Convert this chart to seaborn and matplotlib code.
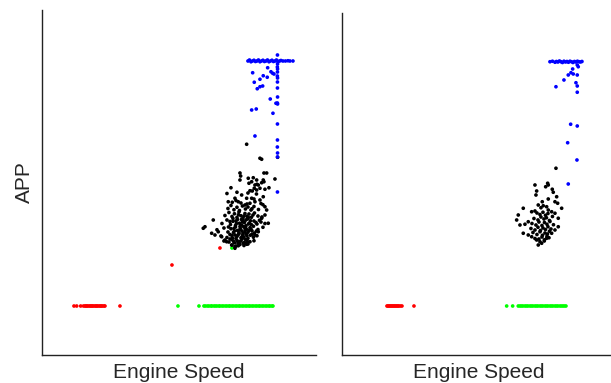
import matplotlib
matplotlib.use("Agg")
import matplotlib.pyplot as plt
import seaborn as sns
import pandas as pd

# ---- left panel (engine speed in rpm, APP in %) ----
left_red = [(640, 0), (694, 0), (774, 0), (830, 0), (860, 0), (880, 0), (900, 0), (920, 0),
            (950, 0), (970, 0), (990, 0), (1010, 0), (1030, 0), (1060, 0), (1080, 0),
            (1100, 0), (1120, 0), (1150, 0), (1170, 0), (1190, 0), (1210, 0), (1240, 0),
            (1260, 0), (1560, 0), (2600, 16.4), (3560, 23.2)]

left_green = [(2720, 0), (3140, 0), (3240, 0), (3270, 0), (3310, 0), (3340, 0), (3380, 0),
              (3400, 0), (3440, 0), (3470, 0), (3500, 0), (3540, 0), (3560, 0), (3600, 0),
              (3630, 0), (3670, 0), (3700, 0), (3740, 0), (3760, 0), (3800, 0), (3830, 0),
              (3870, 0), (3900, 0), (3940, 0), (3960, 0), (4000, 0), (4030, 0), (4070, 0),
              (4100, 0), (4140, 0), (4160, 0), (4200, 0), (4230, 0), (4270, 0), (4300, 0),
              (4340, 0), (4360, 0), (4400, 0), (4430, 0), (4470, 0), (4500, 0), (4540, 0),
              (4560, 0), (4600, 0), (4620, 0), (3800, 23.2)]

left_black = [
    # upper arm
    (4094, 64.7), (4360, 59.1), (4394, 58.7), (4714, 59.5), (3960, 53.2), (3974, 52.0),
    (4440, 53.2), (4494, 53.2), (4660, 50.8), (4126, 51.1), (4226, 51.3), (4294, 50.4),
    (4426, 50.4), (3960, 50.4), (4140, 49.1), (4300, 48.7), (4360, 47.1), (4246, 47.1),
    (4206, 46.0), (4294, 46.4), (3780, 47.3), (4394, 49.3), (4440, 49.7), (4194, 49.7),
    (4260, 48.4), (4326, 48.4), (4160, 46.1), (4540, 47.3), (4460, 46.7),
    # middle
    (3726, 41.7), (3806, 41.5), (3860, 43.1), (3926, 41.7), (3994, 44.4), (4094, 43.1),
    (4194, 43.1), (4060, 40.4), (4160, 41.1), (4260, 41.7), (4360, 42.4), (4426, 43.7),
    (4460, 39.7), (3700, 45.0), (3900, 45.5), (4120, 45.2), (4290, 44.8),
    (3880, 42.2), (4240, 42.8), (4380, 41.0),
    (3720, 39.0), (3780, 40.2), (3840, 38.5), (3900, 39.5), (3950, 38.2), (4010, 40.0),
    (4070, 38.8), (4120, 39.6), (4180, 38.4), (4240, 39.8), (4330, 38.6), (4420, 40.5),
    # core
    (3660, 36.2), (3740, 37.4), (3800, 35.8), (3850, 36.9), (3900, 35.4), (3940, 37.6),
    (3980, 36.1), (4020, 35.2), (4060, 37.0), (4100, 35.9), (4140, 36.8), (4190, 35.5),
    (4250, 37.2), (4320, 36.0), (4400, 35.6),
    (3600, 33.0), (3700, 34.4), (3770, 32.6), (3820, 33.9), (3870, 32.2), (3910, 34.6),
    (3950, 33.1), (3990, 32.4), (4020, 34.2), (4050, 33.4), (4080, 32.1), (4110, 34.8),
    (4150, 33.2), (4190, 32.5), (4240, 34.0), (4300, 32.8), (4380, 33.6), (4460, 33.0),
    (3500, 30.5), (3640, 31.2), (3720, 29.6), (3780, 30.9), (3830, 29.4), (3870, 31.6),
    (3910, 30.2), (3940, 29.3), (3970, 31.0), (4000, 30.0), (4030, 31.8), (4060, 29.8),
    (4090, 30.7), (4120, 29.5), (4160, 31.3), (4200, 30.1), (4250, 29.2), (4320, 30.6),
    (4420, 31.5),
    (3580, 28.0), (3700, 27.4), (3760, 28.6), (3810, 27.2), (3860, 28.4), (3900, 27.8),
    (3940, 28.9), (3980, 27.3), (4010, 28.2), (4040, 27.6), (4080, 28.8), (4120, 27.1),
    (4170, 28.3), (4230, 27.5), (4300, 28.1),
    (3640, 26.0), (3740, 25.6), (3800, 26.6), (3850, 25.3), (3900, 26.2), (3950, 25.8),
    (4000, 26.8), (4050, 25.4), (4100, 26.4), (4160, 25.7), (4240, 26.1),
    (3800, 24.4), (3880, 24.0), (3960, 24.6), (4040, 24.2), (4120, 24.8),
    # extra density in the core
    (3820, 35.0), (3880, 34.0), (3930, 36.5), (3990, 34.6), (4040, 36.0), (4080, 34.4),
    (4130, 35.4), (4170, 34.1), (4220, 36.4), (3760, 33.8), (3840, 31.0), (3890, 33.0),
    (3960, 31.8), (4010, 33.6), (4070, 31.4), (4130, 32.8), (4180, 30.8), (4230, 31.9),
    (3730, 31.6), (3800, 28.2), (3850, 30.0), (3920, 28.4), (3960, 30.6), (4020, 29.0),
    (4060, 31.0), (4100, 28.2), (4140, 30.2), (4200, 28.7), (3760, 26.8), (3830, 25.9),
    (3880, 27.0), (3920, 25.2), (3980, 26.0), (4020, 27.4), (4070, 26.6), (4110, 25.6),
    (4280, 33.4), (4290, 30.0), (4350, 34.3), (4200, 38.9), (4100, 40.8), (3980, 41.2),
    # lower-left tail, right side and bottom
    (3260, 31.7), (3226, 31.1), (3426, 34.4), (3394, 29.1), (3460, 28.4), (3526, 29.7),
    (3594, 27.7), (3660, 26.4), (3694, 25.7), (4394, 35.1), (4460, 36.4), (4494, 38.4),
    (4526, 33.1), (4326, 29.7), (4260, 28.4), (3794, 24.4), (3860, 23.7), (3926, 24.1),
    (4026, 25.1), (4094, 24.7), (3860, 23.1)]

left_blue = [
    # full-throttle line
    (4120, 98), (4150, 98.4), (4180, 97.7), (4210, 98), (4240, 98.3), (4270, 97.8),
    (4300, 98), (4330, 98.4), (4360, 97.7), (4390, 98), (4420, 98.3), (4450, 97.8),
    (4480, 98), (4510, 98.4), (4540, 97.7), (4570, 98), (4600, 98.3), (4630, 97.8),
    (4660, 98), (4690, 98.4), (4720, 97.7), (4750, 98), (4780, 98.2), (4820, 98),
    (4870, 98), (4920, 98.1), (4960, 98), (5020, 98),
    # vertical streak
    (4710, 100.4), (4712, 96.8), (4708, 95.6), (4712, 94.8), (4710, 93.6), (4708, 92.0),
    (4712, 91.2), (4710, 89.6), (4710, 87.2), (4712, 83.6), (4708, 81.2), (4712, 80.8),
    (4710, 72.8), (4710, 66.4), (4708, 63.6), (4712, 61.2), (4710, 59.6), (4710, 45.6),
    # scattered
    (4514, 95.3), (4580, 93.7), (4614, 93.1), (4640, 92.8), (4214, 93.3), (4426, 92.1),
    (4360, 90.7), (4246, 89.5), (4506, 91.5), (4414, 88.0), (4360, 87.7), (4306, 86.9),
    (4566, 82.8), (4680, 81.1), (4194, 78.4), (4286, 78.8), (4620, 77.1), (4260, 68.0)]

# ---- right panel ----
right_red = [(680, 0), (700, 0), (720, 0), (740, 0), (760, 0), (780, 0), (800, 0), (820, 0),
             (840, 0), (860, 0), (880, 0), (900, 0), (920, 0), (950, 0), (980, 0), (1220, 0)]

right_green = [(3074, 0), (3194, 0), (3306, 0), (3340, 0), (3370, 0), (3400, 0), (3440, 0),
               (3470, 0), (3500, 0), (3540, 0), (3570, 0), (3600, 0), (3640, 0), (3670, 0),
               (3700, 0), (3740, 0), (3770, 0), (3800, 0), (3840, 0), (3870, 0), (3900, 0),
               (3940, 0), (3970, 0), (4000, 0), (4040, 0), (4070, 0), (4100, 0), (4140, 0),
               (4170, 0), (4200, 0), (4230, 0), (4260, 0)]

right_black = [
    (4060, 55.1), (3640, 48.4), (3854, 47.7), (3894, 49.1), (3906, 48.4), (3986, 46.7),
    (3674, 46.0), (4006, 45.5), (3660, 44.4), (4074, 43.7), (3906, 42.8), (4040, 41.7),
    (4094, 41.1), (3786, 41.7), (3706, 40.4), (3806, 40.1), (3760, 39.3), (3874, 39.7),
    (4174, 39.1), (3406, 39.1), (3906, 38.4), (3974, 37.7), (4040, 37.1), (3574, 37.7),
    (3640, 38.0), (3306, 36.4), (3274, 34.4), (4106, 35.1), (3340, 32.4), (3440, 32.7),
    (3506, 33.7), (3406, 29.1), (3506, 28.4), (3574, 27.7), (3674, 26.4), (3740, 25.7),
    (3826, 26.0), (3874, 27.1), (3706, 24.4), (3774, 25.1), (3974, 29.1), (4040, 30.4),
    (4106, 31.7),
    (3680, 37.2), (3740, 36.6), (3800, 37.5), (3850, 36.3), (3900, 37.0),
    (3620, 35.0), (3700, 34.4), (3760, 35.6), (3820, 34.8), (3870, 35.3), (3930, 34.2),
    (3990, 35.8),
    (3580, 33.0), (3660, 32.4), (3720, 33.6), (3780, 32.2), (3830, 33.4), (3880, 32.7),
    (3940, 33.8), (4010, 32.5),
    (3560, 31.0), (3640, 30.4), (3700, 31.5), (3750, 30.2), (3800, 31.2), (3850, 30.6),
    (3900, 31.7), (3960, 30.8),
    (3600, 29.4), (3680, 28.6), (3740, 29.7), (3790, 28.3), (3840, 29.2), (3890, 28.8),
    (3930, 29.9),
    (3640, 27.0), (3720, 26.8), (3780, 27.6), (3830, 26.5), (3880, 27.9), (3920, 27.3)]

right_blue = [
    (3940, 97.7), (3990, 97.9), (4040, 97.5), (4070, 97.8), (4100, 97.6), (4130, 98.0),
    (4160, 97.7), (4190, 97.4), (4220, 97.9), (4250, 97.6), (4280, 97.8), (4310, 97.5),
    (4340, 97.9), (4370, 97.7), (4400, 97.4), (4430, 97.8), (4460, 97.6), (4490, 97.9),
    (4520, 97.7), (4550, 97.6), (4580, 97.8),
    (4486, 96.4), (4506, 95.7), (4394, 94.8), (4360, 93.3), (4406, 92.8), (4306, 92.4),
    (4486, 92.4), (4220, 90.4), (4460, 89.3), (4486, 88.0), (4486, 85.5), (4060, 87.7),
    (4354, 72.7), (4486, 72.0), (4294, 65.3), (4480, 58.4), (4306, 48.8)]

palette = {'idle': '#ff0000', 'part': '#00ff00', 'transient': '#000000', 'full': '#0000ff'}


def make_frame(red, green, black, blue):
    parts = []
    for pts, cls in [(red, 'idle'), (green, 'part'), (black, 'transient'), (blue, 'full')]:
        parts.append(pd.DataFrame(pts, columns=['EngineSpeed', 'APP']).assign(Class=cls))
    return pd.concat(parts, ignore_index=True)


left_df = make_frame(left_red, left_green, left_black, left_blue)
right_df = make_frame(right_red, right_green, right_black, right_blue)

sns.set_style("white")
plt.rcParams['font.family'] = ['Liberation Sans', 'DejaVu Sans']

fig = plt.figure(figsize=(6.11, 3.83), dpi=100)
ax1 = fig.add_axes([0.0687, 0.0731, 0.4484, 0.9008])
ax2 = fig.add_axes([0.5597, 0.0731, 0.4484, 0.893])

sns.scatterplot(data=left_df, x='EngineSpeed', y='APP', hue='Class', palette=palette,
                s=7, linewidth=0, legend=False, ax=ax1)
sns.scatterplot(data=right_df, x='EngineSpeed', y='APP', hue='Class', palette=palette,
                s=7, linewidth=0, legend=False, ax=ax2)

ax1.set_xlim(0, 5480)
ax1.set_ylim(-19.6, 118.4)
ax2.set_xlim(-220, 5260)
ax2.set_ylim(-19.6, 117.2)

for ax in (ax1, ax2):
    ax.set_xticks([])
    ax.set_yticks([])
    ax.set_xlabel('Engine Speed', fontsize=15, labelpad=6)
    for side in ('top', 'right'):
        ax.spines[side].set_visible(False)
    for side in ('left', 'bottom'):
        ax.spines[side].set_color('#222222')
        ax.spines[side].set_linewidth(1.0)

ax1.set_ylabel('APP', fontsize=15, labelpad=6)
ax2.set_ylabel('')

fig.savefig('out.png', dpi=100)
